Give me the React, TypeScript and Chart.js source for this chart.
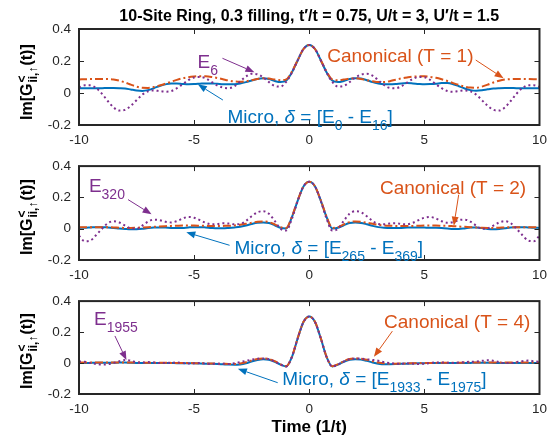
import React, { useEffect, useRef } from "react";
import { Chart, registerables } from "chart.js";

Chart.register(...registerables);

const FONT = '"Liberation Sans", Arial, Helvetica, sans-serif';
const BLUE = "#0072BD";
const ORANGE = "#D95319";
const PURPLE = "#7E2F8E";
const AXIS = "#262626";

const titleText = "10-Site Ring, 0.3 filling, t\u2032/t = 0.75, U/t = 3, U\u2032/t = 1.5";
const xAxisTitle = "Time (1/t)";
const xTickValues = [-10, -5, 0, 5, 10];
const yTickValues = [-0.2, 0, 0.2, 0.4];

const times = [
  -10, -9.75, -9.5, -9.25, -9, -8.75, -8.5, -8.25, -8, -7.75, -7.5, -7.25, -7, -6.75, -6.5, -6.25,
  -6, -5.75, -5.5, -5.25, -5, -4.75, -4.5, -4.25, -4, -3.75, -3.5, -3.25, -3, -2.75, -2.5, -2.25,
  -2, -1.75, -1.5, -1.25, -1, -0.75, -0.5, -0.25, 0, 0.25, 0.5, 0.75, 1, 1.25, 1.5, 1.75,
  2, 2.25, 2.5, 2.75, 3, 3.25, 3.5, 3.75, 4, 4.25, 4.5, 4.75, 5, 5.25, 5.5, 5.75,
  6, 6.25, 6.5, 6.75, 7, 7.25, 7.5, 7.75, 8, 8.25, 8.5, 8.75, 9, 9.25, 9.5, 9.75, 10,
];

// Panel 1 (T = 1)
const micro1 = [
  0.030, 0.030, 0.030, 0.030, 0.030, 0.031, 0.031, 0.030, 0.028, 0.022, 0.016, 0.013, 0.018, 0.030, 0.044, 0.054,
  0.060, 0.060, 0.057, 0.055, 0.056, 0.058, 0.060, 0.060, 0.058, 0.055, 0.054, 0.055, 0.060, 0.068, 0.078, 0.088,
  0.092, 0.087, 0.075, 0.068, 0.078, 0.130, 0.205, 0.275, 0.300, 0.275, 0.205, 0.130, 0.078, 0.068, 0.075, 0.087,
  0.092, 0.090, 0.080, 0.068, 0.060, 0.055, 0.054, 0.056, 0.060, 0.062, 0.060, 0.057, 0.055, 0.056, 0.058, 0.062,
  0.062, 0.055, 0.042, 0.028, 0.018, 0.014, 0.017, 0.023, 0.028, 0.030, 0.031, 0.031, 0.030, 0.030, 0.030, 0.030, 0.030,
];
const canon1 = [
  0.085, 0.086, 0.087, 0.088, 0.088, 0.087, 0.084, 0.077, 0.066, 0.052, 0.040, 0.033, 0.032, 0.037, 0.047, 0.058,
  0.070, 0.082, 0.092, 0.099, 0.103, 0.105, 0.104, 0.100, 0.094, 0.086, 0.078, 0.072, 0.070, 0.073, 0.080, 0.088,
  0.092, 0.090, 0.084, 0.080, 0.085, 0.135, 0.205, 0.275, 0.300, 0.275, 0.205, 0.135, 0.085, 0.080, 0.084, 0.090,
  0.092, 0.088, 0.080, 0.073, 0.068, 0.068, 0.074, 0.083, 0.091, 0.097, 0.102, 0.104, 0.104, 0.101, 0.095, 0.086,
  0.075, 0.062, 0.050, 0.040, 0.034, 0.033, 0.040, 0.052, 0.066, 0.077, 0.084, 0.087, 0.088, 0.088, 0.087, 0.086, 0.085,
];
const eig1 = [
  0.035, 0.048, 0.048, 0.030, -0.005, -0.050, -0.090, -0.110, -0.105, -0.080, -0.045, -0.010, 0.010, 0.016, 0.012, 0.008,
  0.012, 0.030, 0.055, 0.080, 0.097, 0.100, 0.092, 0.070, 0.048, 0.034, 0.030, 0.042, 0.072, 0.103, 0.120, 0.117,
  0.097, 0.068, 0.044, 0.040, 0.070, 0.128, 0.205, 0.275, 0.300, 0.275, 0.205, 0.128, 0.070, 0.040, 0.044, 0.068,
  0.097, 0.115, 0.120, 0.108, 0.080, 0.050, 0.032, 0.030, 0.042, 0.065, 0.088, 0.100, 0.098, 0.082, 0.055, 0.030,
  0.012, 0.008, 0.012, 0.016, 0.010, -0.010, -0.045, -0.080, -0.105, -0.110, -0.090, -0.050, -0.005, 0.030, 0.048, 0.048, 0.038,
];

// Panel 2 (T = 2)
const micro2 = [
  0.005, 0.006, 0.008, 0.010, 0.010, 0.008, 0.005, 0.001, -0.002, -0.004, -0.003, 0.000, 0.004, 0.007, 0.008, 0.007,
  0.005, 0.004, 0.005, 0.008, 0.010, 0.010, 0.008, 0.005, 0.003, 0.003, 0.005, 0.008, 0.012, 0.020, 0.030, 0.038,
  0.040, 0.036, 0.022, 0.006, 0.002, 0.075, 0.180, 0.270, 0.300, 0.270, 0.180, 0.075, 0.002, 0.006, 0.022, 0.036,
  0.040, 0.037, 0.028, 0.018, 0.010, 0.006, 0.004, 0.004, 0.005, 0.007, 0.008, 0.008, 0.007, 0.006, 0.006, 0.005,
  0.002, -0.002, -0.002, 0.002, 0.007, 0.008, 0.004, -0.002, -0.004, -0.002, 0.003, 0.008, 0.010, 0.010, 0.008, 0.006, 0.005,
];
const canon2 = [
  0.010, 0.010, 0.010, 0.010, 0.010, 0.009, 0.008, 0.006, 0.005, 0.005, 0.006, 0.008, 0.010, 0.012, 0.014, 0.016,
  0.018, 0.019, 0.020, 0.020, 0.020, 0.019, 0.018, 0.017, 0.017, 0.018, 0.019, 0.021, 0.025, 0.031, 0.038, 0.044,
  0.046, 0.042, 0.028, 0.010, 0.005, 0.078, 0.182, 0.270, 0.300, 0.270, 0.182, 0.078, 0.005, 0.010, 0.028, 0.042,
  0.046, 0.044, 0.038, 0.031, 0.025, 0.021, 0.019, 0.018, 0.017, 0.017, 0.018, 0.019, 0.020, 0.020, 0.020, 0.019,
  0.018, 0.016, 0.014, 0.012, 0.010, 0.008, 0.006, 0.005, 0.005, 0.006, 0.008, 0.009, 0.010, 0.010, 0.010, 0.010, 0.010,
];
const eig2 = [
  -0.045, -0.080, -0.075, -0.040, 0.000, 0.035, 0.048, 0.040, 0.020, 0.002, 0.000, 0.020, 0.045, 0.058, 0.055, 0.045,
  0.040, 0.048, 0.065, 0.075, 0.070, 0.055, 0.038, 0.028, 0.030, 0.035, 0.033, 0.028, 0.030, 0.050, 0.080, 0.105,
  0.112, 0.095, 0.050, 0.000, -0.012, 0.065, 0.178, 0.270, 0.300, 0.270, 0.178, 0.065, -0.012, 0.000, 0.050, 0.095,
  0.112, 0.105, 0.080, 0.050, 0.030, 0.028, 0.033, 0.035, 0.030, 0.028, 0.038, 0.055, 0.070, 0.075, 0.065, 0.048,
  0.038, 0.042, 0.055, 0.058, 0.045, 0.020, 0.000, 0.002, 0.020, 0.040, 0.048, 0.035, 0.000, -0.040, -0.075, -0.080, -0.045,
];

// Panel 3 (T = 4)
const micro3 = [
  0.000, 0.000, 0.001, 0.002, 0.002, 0.002, 0.002, 0.003, 0.003, 0.002, 0.001, 0.000, 0.000, 0.000, 0.000, 0.000,
  0.000, -0.001, -0.001, -0.002, -0.002, -0.003, -0.004, -0.005, -0.006, -0.008, -0.010, -0.011, -0.009, -0.002, 0.010, 0.020,
  0.025, 0.021, 0.008, -0.010, -0.022, 0.040, 0.160, 0.265, 0.300, 0.265, 0.160, 0.040, -0.022, -0.010, 0.008, 0.021,
  0.025, 0.022, 0.014, 0.004, -0.004, -0.008, -0.008, -0.007, -0.005, -0.004, -0.003, -0.002, -0.001, 0.000, 0.000, 0.000,
  0.000, 0.000, 0.000, 0.000, 0.001, 0.002, 0.002, 0.002, 0.001, 0.000, 0.000, 0.000, 0.000, 0.000, 0.000, 0.000, 0.000,
];
const canon3 = [
  0.003, 0.003, 0.003, 0.003, 0.003, 0.003, 0.003, 0.004, 0.004, 0.004, 0.003, 0.003, 0.002, 0.002, 0.002, 0.002,
  0.001, 0.001, 0.000, 0.000, -0.001, -0.001, -0.002, -0.003, -0.004, -0.005, -0.006, -0.006, -0.003, 0.005, 0.016, 0.026,
  0.030, 0.026, 0.012, -0.008, -0.020, 0.042, 0.162, 0.266, 0.300, 0.266, 0.162, 0.042, -0.020, -0.008, 0.012, 0.026,
  0.030, 0.028, 0.021, 0.011, 0.003, -0.002, -0.004, -0.004, -0.003, -0.002, -0.001, 0.000, 0.000, 0.001, 0.001, 0.002,
  0.002, 0.002, 0.002, 0.003, 0.003, 0.003, 0.004, 0.004, 0.004, 0.003, 0.003, 0.003, 0.003, 0.003, 0.003, 0.003, 0.003,
];
const eig3 = [
  0.010, 0.008, 0.000, -0.006, -0.010, -0.008, 0.000, 0.012, 0.020, 0.015, 0.005, 0.003, 0.006, 0.004, 0.000, 0.000,
  0.002, 0.003, 0.000, -0.003, -0.002, 0.000, -0.004, -0.006, -0.004, -0.004, -0.006, -0.002, 0.006, 0.014, 0.022, 0.028,
  0.030, 0.025, 0.010, -0.010, -0.022, 0.040, 0.160, 0.265, 0.300, 0.265, 0.160, 0.040, -0.022, -0.010, 0.010, 0.024,
  0.030, 0.028, 0.024, 0.020, 0.015, 0.006, 0.000, -0.004, -0.004, -0.002, -0.004, -0.006, -0.004, 0.000, 0.004, 0.004,
  0.002, 0.000, 0.003, 0.006, 0.008, 0.010, 0.014, 0.018, 0.014, 0.006, 0.000, 0.000, 0.006, 0.012, 0.016, 0.012, 0.008,
];

type Part = { t: string; sub?: boolean; italic?: boolean };
type Label = { parts: Part[]; x: number; y: number; color: string };
type Arrow = { x1: number; y1: number; x2: number; y2: number; color: string };

const eLabel = (n: string): Part[] => [{ t: "E" }, { t: n, sub: true }];
const microLabel = (a: string, b: string): Part[] => [
  { t: "Micro, " },
  { t: "\u03B4", italic: true },
  { t: " = [E" },
  { t: a, sub: true },
  { t: " - E" },
  { t: b, sub: true },
  { t: "]" },
];

const labels1: Label[] = [
  { parts: eLabel("6"), x: -4.85, y: 0.156, color: PURPLE },
  { parts: [{ t: "Canonical (T = 1)" }], x: 0.78, y: 0.194, color: ORANGE },
  { parts: microLabel("0", "16"), x: -3.55, y: -0.1875, color: BLUE },
];
const arrows1: Arrow[] = [
  { x1: -3.77, y1: 0.217, x2: -2.38, y2: 0.13, color: PURPLE },
  { x1: 7.23, y1: 0.206, x2: 8.44, y2: 0.092, color: ORANGE },
  { x1: -3.75, y1: -0.044, x2: -4.84, y2: 0.054, color: BLUE },
];
const labels2: Label[] = [
  { parts: eLabel("320"), x: -9.57, y: 0.2375, color: PURPLE },
  { parts: [{ t: "Canonical (T = 2)" }], x: 3.07, y: 0.219, color: ORANGE },
  { parts: microLabel("265", "369"), x: -3.25, y: -0.1625, color: BLUE },
];
const arrows2: Arrow[] = [
  { x1: -7.87, y1: 0.186, x2: -6.85, y2: 0.092, color: PURPLE },
  { x1: 6.49, y1: 0.217, x2: 6.28, y2: 0.019, color: ORANGE },
  { x1: -3.46, y1: -0.106, x2: -5.34, y2: -0.023, color: BLUE },
];
const labels3: Label[] = [
  { parts: eLabel("1955"), x: -9.35, y: 0.244, color: PURPLE },
  { parts: [{ t: "Canonical (T = 4)" }], x: 3.25, y: 0.225, color: ORANGE },
  { parts: microLabel("1933", "1975"), x: -1.17, y: -0.144, color: BLUE },
];
const arrows3: Arrow[] = [
  { x1: -8.44, y1: 0.175, x2: -7.94, y2: 0.019, color: PURPLE },
  { x1: 3.61, y1: 0.206, x2: 2.81, y2: 0.04, color: ORANGE },
  { x1: -1.37, y1: -0.127, x2: -3.1, y2: -0.0375, color: BLUE },
];

type PanelDef = {
  top: number;
  height: number;
  padTop: number;
  padBottom: number;
  micro: number[];
  canon: number[];
  eig: number[];
  labels: Label[];
  arrows: Arrow[];
  title: boolean;
  xTitle: boolean;
};

const PANELS: PanelDef[] = [
  { top: 0, height: 150, padTop: 29, padBottom: 0, micro: micro1, canon: canon1, eig: eig1, labels: labels1, arrows: arrows1, title: true, xTitle: false },
  { top: 150, height: 135, padTop: 14, padBottom: 0, micro: micro2, canon: canon2, eig: eig2, labels: labels2, arrows: arrows2, title: false, xTitle: false },
  { top: 285, height: 151, padTop: 13, padBottom: 17, micro: micro3, canon: canon3, eig: eig3, labels: labels3, arrows: arrows3, title: false, xTitle: true },
];

const MAIN_SIZE = 19;
const SUB_SIZE = 14;
const SUB_DROP = 7;

function drawRich(ctx: CanvasRenderingContext2D, x: number, y: number, parts: Part[], color: string) {
  ctx.fillStyle = color;
  ctx.textAlign = "left";
  ctx.textBaseline = "alphabetic";
  let cx = x;
  for (const p of parts) {
    const fs = p.sub ? SUB_SIZE : MAIN_SIZE;
    ctx.font = `${p.italic ? "italic " : ""}${fs}px ${FONT}`;
    ctx.fillText(p.t, cx, y + (p.sub ? SUB_DROP : 0));
    cx += ctx.measureText(p.t).width;
  }
}

function drawArrow(ctx: CanvasRenderingContext2D, x1: number, y1: number, x2: number, y2: number, color: string) {
  const ang = Math.atan2(y2 - y1, x2 - x1);
  const L = 9;
  const W = 3.5;
  const c = Math.cos(ang);
  const s = Math.sin(ang);
  const bx = x2 - L * c;
  const by = y2 - L * s;
  ctx.strokeStyle = color;
  ctx.fillStyle = color;
  ctx.lineWidth = 1;
  ctx.setLineDash([]);
  ctx.beginPath();
  ctx.moveTo(x1, y1);
  ctx.lineTo(bx, by);
  ctx.stroke();
  ctx.beginPath();
  ctx.moveTo(x2, y2);
  ctx.lineTo(bx - W * s, by + W * c);
  ctx.lineTo(bx + W * s, by - W * c);
  ctx.closePath();
  ctx.fill();
}

function drawYLabel(ctx: CanvasRenderingContext2D, x: number, y: number) {
  ctx.save();
  ctx.translate(x, y);
  ctx.rotate(-Math.PI / 2);
  ctx.fillStyle = "#000";
  ctx.textAlign = "left";
  ctx.textBaseline = "alphabetic";
  let cx = 0;
  ctx.font = `bold 16px ${FONT}`;
  ctx.fillText("Im[G", cx, 0);
  cx += ctx.measureText("Im[G").width + 1;
  ctx.font = `bold 12px ${FONT}`;
  ctx.fillText("<", cx, -6);
  const w1 = ctx.measureText("<").width;
  ctx.fillText("ii,\u2191", cx, 5);
  const w2 = ctx.measureText("ii,\u2191").width;
  cx += Math.max(w1, w2) + 1;
  ctx.font = `bold 16px ${FONT}`;
  ctx.fillText("(t)]", cx, 0);
  ctx.restore();
}

function makeChart(canvas: HTMLCanvasElement, p: PanelDef): Chart {
  const pts = (arr: number[]) => times.map((t, i) => ({ x: t, y: arr[i] }));
  const deco = {
    id: "deco",
    afterDraw(chart: any) {
      const ctx: CanvasRenderingContext2D = chart.ctx;
      const { left, right, top, bottom } = chart.chartArea;
      const xs = chart.scales.x;
      const ys = chart.scales.y;
      ctx.save();
      ctx.setLineDash([]);
      ctx.strokeStyle = AXIS;
      ctx.lineWidth = 2;
      ctx.strokeRect(left, top, right - left, bottom - top);
      ctx.lineWidth = 1;
      ctx.beginPath();
      for (const v of xTickValues) {
        const px = Math.round(xs.getPixelForValue(v)) + 0.5;
        ctx.moveTo(px, bottom);
        ctx.lineTo(px, bottom - 5);
        ctx.moveTo(px, top);
        ctx.lineTo(px, top + 5);
      }
      for (const v of yTickValues) {
        const py = Math.round(ys.getPixelForValue(v)) + 0.5;
        ctx.moveTo(left, py);
        ctx.lineTo(left + 5, py);
        ctx.moveTo(right, py);
        ctx.lineTo(right - 5, py);
      }
      ctx.stroke();
      for (const a of p.arrows) {
        drawArrow(ctx, xs.getPixelForValue(a.x1), ys.getPixelForValue(a.y1), xs.getPixelForValue(a.x2), ys.getPixelForValue(a.y2), a.color);
      }
      for (const l of p.labels) {
        drawRich(ctx, xs.getPixelForValue(l.x), ys.getPixelForValue(l.y), l.parts, l.color);
      }
      drawYLabel(ctx, 32, bottom - 5);
      if (p.title) {
        ctx.fillStyle = "#000";
        ctx.font = `bold 16px ${FONT}`;
        ctx.textAlign = "center";
        ctx.textBaseline = "alphabetic";
        ctx.fillText(titleText, (left + right) / 2, 21);
      }
      if (p.xTitle) {
        ctx.fillStyle = "#000";
        ctx.font = `bold 17px ${FONT}`;
        ctx.textAlign = "center";
        ctx.textBaseline = "alphabetic";
        ctx.fillText(xAxisTitle, (left + right) / 2, bottom + 38);
      }
      ctx.restore();
    },
  };

  return new Chart(canvas, {
    type: "line",
    data: {
      datasets: [
        {
          label: "E",
          data: pts(p.eig),
          borderColor: PURPLE,
          borderWidth: 2,
          borderDash: [2, 3],
          pointRadius: 0,
          cubicInterpolationMode: "monotone",
          fill: false,
        },
        {
          label: "Canonical",
          data: pts(p.canon),
          borderColor: ORANGE,
          borderWidth: 2,
          borderDash: [8, 3, 2, 3],
          pointRadius: 0,
          cubicInterpolationMode: "monotone",
          fill: false,
        },
        {
          label: "Micro",
          data: pts(p.micro),
          borderColor: BLUE,
          borderWidth: 2,
          pointRadius: 0,
          cubicInterpolationMode: "monotone",
          fill: false,
        },
      ],
    },
    options: {
      responsive: false,
      animation: false,
      events: [],
      layout: { padding: { top: p.padTop, bottom: p.padBottom, left: 0, right: 13 } },
      plugins: {
        legend: { display: false },
        tooltip: { enabled: false },
        title: { display: false },
      },
      scales: {
        x: {
          type: "linear",
          min: -10,
          max: 10,
          afterBuildTicks: (s: any) => {
            s.ticks = xTickValues.map((v) => ({ value: v }));
          },
          afterFit: (s: any) => {
            s.height = 25;
          },
          grid: { display: false, drawTicks: false },
          border: { display: false },
          ticks: {
            font: { size: 13.5, family: FONT },
            color: AXIS,
            padding: 7,
            maxRotation: 0,
            autoSkip: false,
            callback: (v: any) => String(v),
          },
        },
        y: {
          type: "linear",
          min: -0.2,
          max: 0.4,
          afterBuildTicks: (s: any) => {
            s.ticks = yTickValues.map((v) => ({ value: v }));
          },
          afterFit: (s: any) => {
            s.width = 79;
          },
          grid: { display: false, drawTicks: false },
          border: { display: false },
          ticks: {
            font: { size: 13.5, family: FONT },
            color: AXIS,
            padding: 8,
            autoSkip: false,
            callback: (v: any) => String(Number(Number(v).toFixed(1))),
          },
        },
      },
    } as any,
    plugins: [deco],
  });
}

export default function App() {
  const r0 = useRef<HTMLCanvasElement>(null);
  const r1 = useRef<HTMLCanvasElement>(null);
  const r2 = useRef<HTMLCanvasElement>(null);
  const refs = [r0, r1, r2];
  useEffect(() => {
    const charts = PANELS.map((p, i) => makeChart(refs[i].current as HTMLCanvasElement, p));
    return () => charts.forEach((c) => c.destroy());
  }, []);
  return (
    <div style={{ position: "absolute", left: 0, top: 0, width: 554, height: 436, background: "#fff" }}>
      {PANELS.map((p, i) => (
        <canvas
          key={i}
          ref={refs[i]}
          width={554}
          height={p.height}
          style={{ position: "absolute", left: 0, top: p.top, width: 554, height: p.height, display: "block" }}
        />
      ))}
    </div>
  );
}
